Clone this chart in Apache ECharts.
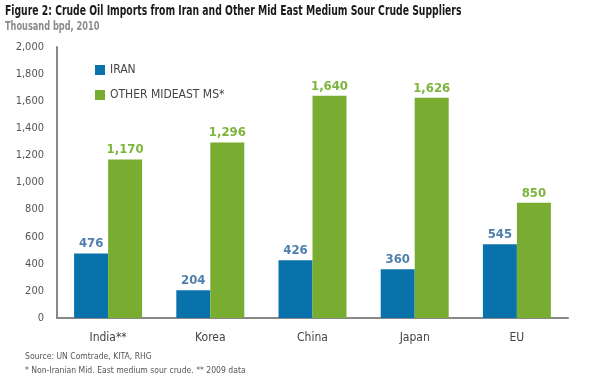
<!DOCTYPE html>
<html><head><meta charset="utf-8">
<script src="https://cdn.jsdelivr.net/npm/echarts@6/dist/echarts.min.js"></script>
<style>html,body{margin:0;padding:0;background:#fff}#c{width:600px;height:385px}</style>
</head><body><div id="c"></div>
<script>
const categories = ["India**", "Korea", "China", "Japan", "EU"];
const iran = [476, 204, 426, 360, 545];
const otherMideast = [1170, 1296, 1640, 1626, 850];
const seriesNames = ["IRAN", "OTHER MIDEAST MS*"];
const yTicks = [0, 200, 400, 600, 800, 1000, 1200, 1400, 1600, 1800, 2000];

const chart = echarts.init(document.getElementById('c'));
const fmt = v => v.toLocaleString('en-US');
const condensed = '"DejaVu Sans Condensed",Roboto,sans-serif';
chart.setOption({
  animation: false,
  graphic: [
    {type: 'text', left: 5, top: 4, scaleX: 0.735, originX: 0,
     style: {text: 'Figure 2: Crude Oil Imports from Iran and Other Mid East Medium Sour Crude Suppliers',
       font: 'bold 14px ' + condensed, fill: '#1a1a1a'}},
    {type: 'text', left: 5, top: 21, scaleX: 0.76, originX: 0,
     style: {text: 'Thousand bpd, 2010', font: 'bold 12px ' + condensed, fill: '#8a8a8a'}},
    {type: 'text', left: 25, top: 352, scaleX: 0.95, originX: 0,
     style: {text: 'Source: UN Comtrade, KITA, RHG', font: '9px ' + condensed, fill: '#555'}},
    {type: 'text', left: 25, top: 366, scaleX: 0.95, originX: 0,
     style: {text: '* Non-Iranian Mid. East medium sour crude. ** 2009 data', font: '9px ' + condensed, fill: '#555'}}
  ],
  legend: {
    orient: 'vertical', left: 90, top: 59, itemWidth: 10, itemHeight: 10, itemGap: 13,
    icon: 'rect',
    textStyle: {fontFamily: condensed, fontSize: 12, color: '#444'},
    data: seriesNames
  },
  grid: {left: 57, right: 32, top: 47, bottom: 67},
  xAxis: {
    type: 'category', data: categories,
    axisLine: {lineStyle: {color: '#888', width: 2}},
    axisTick: {show: false},
    axisLabel: {fontFamily: condensed, fontSize: 12, color: '#444', margin: 14}
  },
  yAxis: {
    type: 'value', min: yTicks[0], max: yTicks[yTicks.length - 1], interval: 200,
    axisLine: {show: true, lineStyle: {color: '#888', width: 2}},
    axisTick: {show: false},
    splitLine: {show: false},
    axisLabel: {fontFamily: condensed, fontSize: 11, color: '#555', margin: 13, formatter: v => fmt(v)}
  },
  series: [
    {name: seriesNames[0], type: 'bar', data: iran, barWidth: 34, barGap: '0%',
     itemStyle: {color: '#0a72ab'},
     label: {show: true, position: 'top', distance: 3, formatter: p => fmt(p.value),
       fontFamily: condensed, fontWeight: 'bold', fontSize: 13, color: '#4f80ad'}},
    {name: seriesNames[1], type: 'bar', data: otherMideast, barWidth: 34,
     itemStyle: {color: '#78ad32'},
     label: {show: true, position: 'top', distance: 3, formatter: p => fmt(p.value),
       fontFamily: condensed, fontWeight: 'bold', fontSize: 13, color: '#7cb43c'}}
  ]
});
</script></body></html>
